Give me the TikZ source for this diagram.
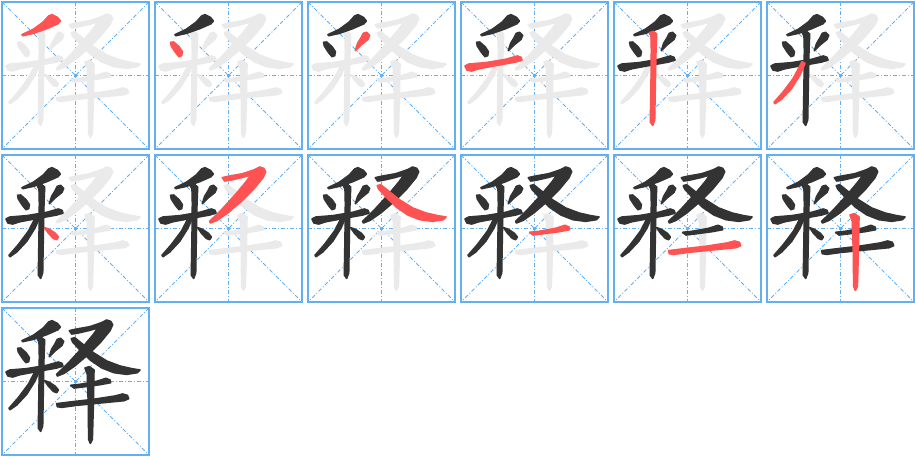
\documentclass[tikz,border=0pt]{standalone}
\definecolor{cellblue}{RGB}{98,176,242}
\definecolor{stkgray}{RGB}{234,234,234}
\definecolor{stkdark}{RGB}{51,51,51}
\definecolor{stkred}{RGB}{255,82,82}
\tikzset{
  cellframe/.style={draw=cellblue, line width=2pt},
  cellguide/.style={draw=cellblue, line width=0.8pt, dash pattern=on 4pt off 2pt on 1pt off 2pt},
  stkfill/.style={fill=#1, draw=#1, line width=1.6pt, line join=round},
}
% strokes, in units of a third of a pixel, from the top left of a cell
\newcommand\stkA{(146,48) -- (156,44) -- (172,52) -- (181,63) -- (174,71) -- (140,86) -- (100,100) -- (68,107) -- (66,104) -- (100,88) -- (130,66) -- cycle}
\newcommand\stkB{(53,127) -- (62,126) -- (78,140) -- (88,155) -- (86,167) -- (78,170) -- (68,158) -- (55,138) -- cycle}
\newcommand\stkC{(172,100) -- (182,97) -- (191,106) -- (186,118) -- (165,135) -- (148,152) -- (155,130) -- (166,112) -- cycle}
\newcommand\stkD{(18,198) -- (30,192) -- (80,188) -- (140,178) -- (175,168) -- (186,172) -- (189,180) -- (170,186) -- (120,195) -- (60,206) -- (38,213) -- (24,210) -- cycle}
\newcommand\stkE{(112,98) -- (124,94) -- (134,102) -- (132,150) -- (130,250) -- (128,360) -- (122,376) -- (115,366) -- (117,250) -- (118,150) -- (117,108) -- cycle}
\newcommand\stkF{(111,185) -- (120,190) -- (105,225) -- (80,265) -- (50,297) -- (30,311) -- (27,307) -- (55,275) -- (85,235) -- cycle}
\newcommand\stkG{(134,224) -- (148,229) -- (166,241) -- (175,252) -- (170,260) -- (160,256) -- (145,240) -- cycle}
\newcommand\stkH{(208,74) -- (225,70) -- (270,62) -- (305,50) -- (320,42) -- (332,46) -- (338,56) -- (330,74) -- (302,108) -- (264,146) -- (224,180) -- (192,202) -- (172,210) -- (170,205) -- (204,172) -- (246,126) -- (278,88) -- (294,66) -- (265,74) -- (230,82) -- (215,84) -- cycle}
\newcommand\stkI{(214,98) -- (224,95) -- (245,112) -- (280,140) -- (320,165) -- (360,180) -- (395,188) -- (420,192) -- (412,200) -- (380,205) -- (342,200) -- (306,186) -- (272,163) -- (240,132) -- (218,108) -- cycle}
\newcommand\stkJ{(212,238) -- (240,235) -- (290,226) -- (318,217) -- (330,222) -- (332,230) -- (300,236) -- (255,242) -- (222,246) -- cycle}
\newcommand\stkK{(170,293) -- (210,288) -- (280,280) -- (345,270) -- (368,264) -- (382,268) -- (386,278) -- (372,284) -- (300,291) -- (230,298) -- (185,304) -- (172,302) -- cycle}
\newcommand\stkL{(255,186) -- (268,182) -- (282,192) -- (280,300) -- (277,400) -- (271,412) -- (266,400) -- (265,300) -- (262,205) -- cycle}
% one cell: left, top, number of the stroke in red
\newcommand\stkcell[3]{%
  \draw[cellframe] (#1,#2) rectangle ++(147,147);
  \draw[cellguide] (#1+73.5,#2) -- ++(0,147);
  \draw[cellguide] (#1,#2+73.5) -- ++(147,0);
  \draw[cellguide] (#1,#2) -- ++(147,147);
  \draw[cellguide] (#1+147,#2) -- ++(-147,147);
  \begin{scope}[shift={(#1-2,#2-2)}, scale=1/3]
    \foreach \s in {A,B,C,D,E,F,G,H,I,J,K,L}
      {\expandafter\let\expandafter\curstk\csname stk\s\endcsname
       \path[stkfill=stkgray] \curstk;}
    \foreach \s [count=\k] in {A,B,C,D,E,F,G,H,I,J,K,L}
      {\ifnum\k<#3 \def\stkcol{stkdark}\else\def\stkcol{stkred}\fi
       \expandafter\let\expandafter\curstk\csname stk\s\endcsname
       \ifnum\k>#3 \else\path[stkfill=\stkcol] \curstk;\fi}
  \end{scope}}
\begin{document}
\begin{tikzpicture}[x=1pt, y=-1pt]
  \useasboundingbox (0,0) rectangle (915,456);

  % Drawing first row
  \stkcell{2}{2}{1}%
  \stkcell{155}{2}{2}%
  \stkcell{308}{2}{3}%
  \stkcell{461}{2}{4}%
  \stkcell{614}{2}{5}%
  \stkcell{767}{2}{6}%

  % Drawing second row
  \stkcell{2}{155}{7}%
  \stkcell{155}{155}{8}%
  \stkcell{308}{155}{9}%
  \stkcell{461}{155}{10}%
  \stkcell{614}{155}{11}%
  \stkcell{767}{155}{12}%

  % Drawing the whole character
  \stkcell{2}{308}{13}%
\end{tikzpicture}
\end{document}
